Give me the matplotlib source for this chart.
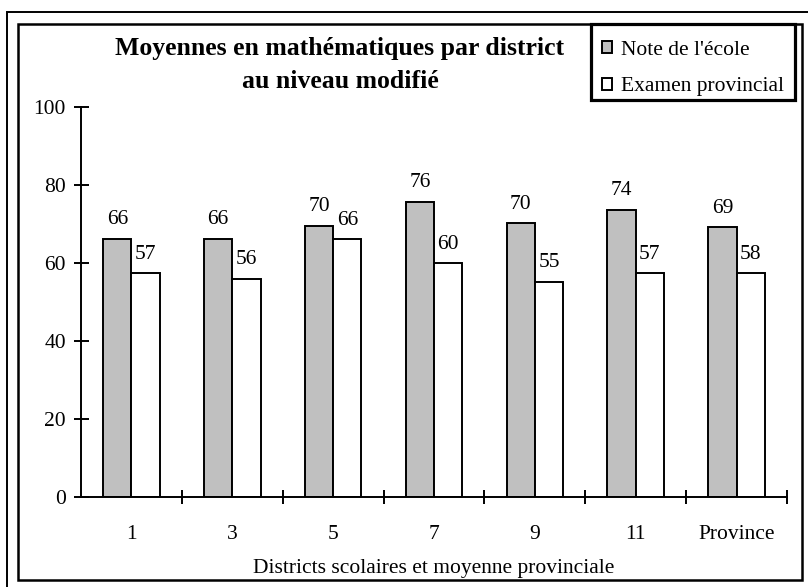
import matplotlib
matplotlib.use("Agg")
import matplotlib.pyplot as plt
from matplotlib.patches import Rectangle

# ---- data
districts = ["1", "3", "5", "7", "9", "11", "Province"]
school = [66.2, 66.2, 69.6, 75.7, 70.2, 73.7, 69.2]          # bar heights
exam = [57.4, 55.9, 66.1, 59.9, 55.2, 57.4, 57.4]
school_lbl = ["66", "66", "70", "76", "70", "74", "69"]      # printed labels
exam_lbl = ["57", "56", "66", "60", "55", "57", "58"]

plt.rcParams["font.family"] = ["Liberation Serif", "DejaVu Serif"]
FS = 15.5
W, H = 808, 587
fig = plt.figure(figsize=(W / 100, H / 100), dpi=100)
ax = fig.add_axes([81 / W, 1 - 497 / H, (787 - 81) / W, (497 - 107) / H])

x = list(range(len(districts)))
bw = 0.28
b1 = ax.bar([i - bw / 2 for i in x], school, bw, color="#c0c0c0", edgecolor="k", lw=1.4,
            label="Note de l'école", zorder=2)
b2 = ax.bar([i + bw / 2 for i in x], exam, bw, color="white", edgecolor="k", lw=1.4,
            label="Examen provincial", zorder=2)
for r, t in zip(b1, school_lbl):
    ax.annotate(t, (r.get_x() + r.get_width() / 2, r.get_height()), xytext=(0, 10.5),
                textcoords="offset points", ha="center", va="baseline", fontsize=FS)
for r, t in zip(b2, exam_lbl):
    ax.annotate(t, (r.get_x() + r.get_width() / 2, r.get_height()), xytext=(0, 10.5),
                textcoords="offset points", ha="center", va="baseline", fontsize=FS)

ax.set_xlim(-0.5, len(districts) - 0.5)
ax.set_ylim(0, 100)
ax.set_yticks(range(0, 101, 20))
ax.set_xticks(x)
ax.set_xticklabels(districts)
ax.set_xticks([i + 0.5 for i in x], minor=True)
ax.tick_params(axis="x", which="major", length=0, pad=20, labelsize=FS)
ax.tick_params(axis="x", which="minor", length=9.5, width=1.4, direction="inout")
ax.tick_params(axis="y", length=10.8, width=1.4, direction="inout", pad=5.5, labelsize=FS)
for s in ("top", "right"):
    ax.spines[s].set_visible(False)
for s in ("left", "bottom"):
    ax.spines[s].set_linewidth(1.4)
ax.set_xlabel("Districts scolaires et moyenne provinciale", fontsize=FS, labelpad=11)

fig.text(340 / W, 1 - 48 / H, "Moyennes en mathématiques par district",
         ha="center", va="center", fontsize=18.5, weight="bold")
fig.text(340 / W, 1 - 81 / H, "au niveau modifié",
         ha="center", va="center", fontsize=18.5, weight="bold")

# legend entries without frame; the box is drawn separately (text sits low in it)
leg = ax.legend(loc="upper right", bbox_to_anchor=(795 / W, 1 - 30 / H),
                bbox_transform=fig.transFigure, borderaxespad=0, fontsize=FS,
                frameon=False, borderpad=0.5,
                labelspacing=0.82, handlelength=0.47, handleheight=0.47, handletextpad=0.42)
fig.add_artist(Rectangle((591 / W, 1 - 100 / H), (795 - 591) / W, (100 - 24) / H,
                         transform=fig.transFigure, fill=False, lw=2.3, ec="k"))

# frames around the whole chart
fig.add_artist(Rectangle((7 / W, -0.1), 1.0, 1.1 - 12 / H,
                         transform=fig.transFigure, fill=False, lw=1.4, ec="k"))
fig.add_artist(Rectangle((18 / W, 1 - 580 / H), (802 - 18) / W, (580 - 24) / H,
                         transform=fig.transFigure, fill=False, lw=1.8, ec="k"))

fig.savefig("out.png", dpi=100)
